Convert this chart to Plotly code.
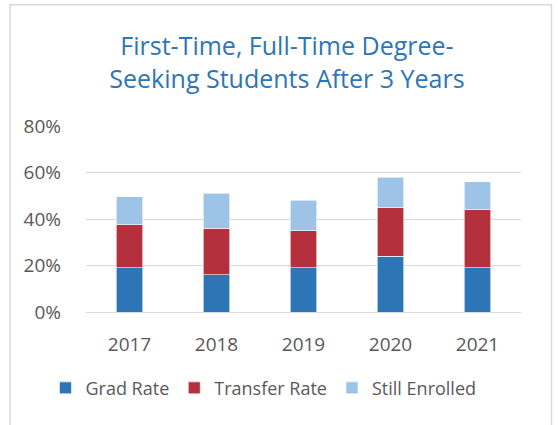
import plotly.graph_objects as go

years = ["2017", "2018", "2019", "2020", "2021"]
grad_rate = [0.19, 0.16, 0.19, 0.24, 0.19]
transfer_rate = [0.186, 0.20, 0.16, 0.21, 0.25]
still_enrolled = [0.12, 0.15, 0.13, 0.13, 0.12]

series = [
    ("Grad Rate", grad_rate, "#2E75B6"),
    ("Transfer Rate", transfer_rate, "#B4303D"),
    ("Still Enrolled", still_enrolled, "#9DC3E6"),
]

FONT = "Open Sans"
TEXT_COLOR = "#595959"
FS = 19

fig = go.Figure()
for name, vals, color in series:
    fig.add_trace(go.Bar(
        x=years, y=vals, name=name,
        marker=dict(color=color, line=dict(color="white", width=0.6)),
    ))

fig.update_layout(
    width=558, height=425,
    barmode="stack",
    bargap=0.69,
    paper_bgcolor="white",
    plot_bgcolor="white",
    margin=dict(l=86, r=37, t=126, b=113, autoexpand=False),
    title=dict(
        text="First-Time, Full-Time Degree-<br>Seeking Students After 3 Years",
        x=0.462, xanchor="center", xref="paper",
        y=0.87, yanchor="top",
        font=dict(family=FONT, size=25, color="#2E75B6"),
    ),
    font=dict(family=FONT, size=FS, color=TEXT_COLOR),
    yaxis=dict(
        range=[0, 0.8], dtick=0.2, tickformat=".0%",
        showgrid=True, gridcolor="#D9D9D9", gridwidth=1.3,
        zeroline=False, showline=False,
        ticks="", ticklabelstandoff=24,
        tickfont=dict(family=FONT, size=FS, color=TEXT_COLOR),
        fixedrange=True,
    ),
    xaxis=dict(
        showline=True, linecolor="#D9D9D9", linewidth=1.3,
        ticks="", tickfont=dict(family=FONT, size=FS, color=TEXT_COLOR),
        ticklabelstandoff=15,
        fixedrange=True,
    ),
    legend=dict(
        orientation="h", x=0.408, xanchor="center", y=-0.31, yanchor="top",
        font=dict(family=FONT, size=18, color=TEXT_COLOR),
        itemwidth=30, traceorder="normal",
    ),
    shapes=[dict(
        type="rect", xref="paper", yref="paper",
        x0=(10 - 86) / 435, x1=(551.5 - 86) / 435,
        y0=(312.3 - 440) / 186.6, y1=(312.3 - 4) / 186.6,
        line=dict(color="#D9D9D9", width=1.5), fillcolor="rgba(0,0,0,0)",
        layer="below",
    )],
)

fig.write_html("out.html", config={"displayModeBar": False},
               post_script="document.body.style.margin='0';")
